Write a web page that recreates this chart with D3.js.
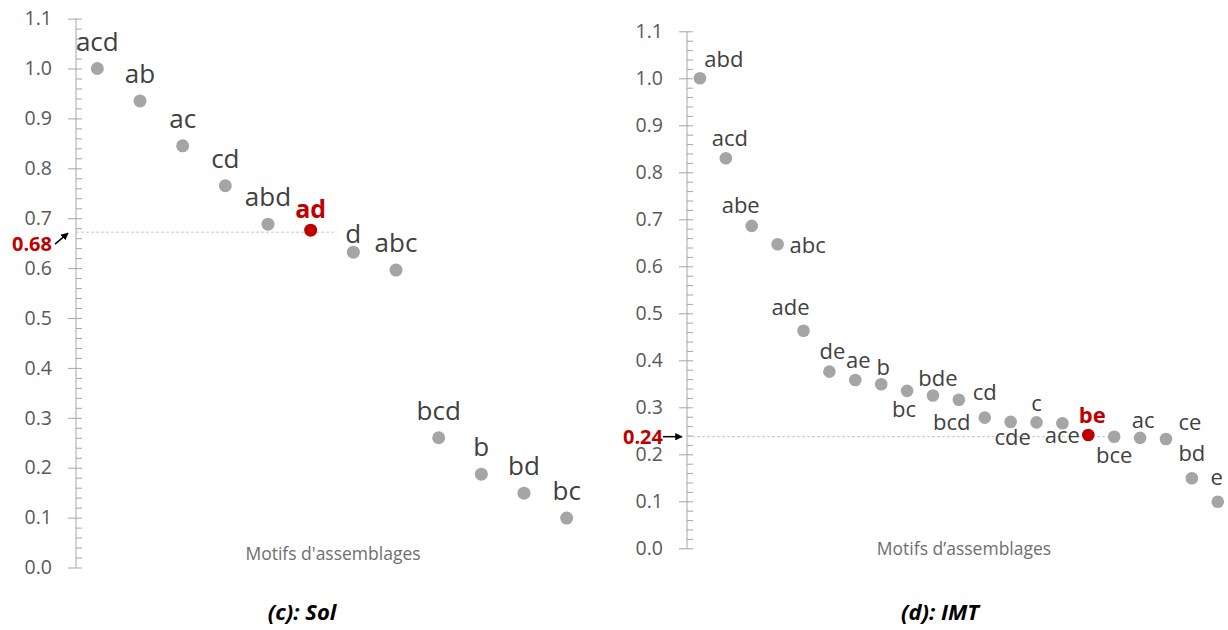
<!DOCTYPE html>
<html>
<head>
<meta charset="utf-8">
<script src="https://cdn.jsdelivr.net/npm/d3@7"></script>
<style>
  body { margin: 0; background: #fff; }
  svg { display: block; font-family: "Open Sans", sans-serif; }
</style>
</head>
<body>
<svg id="chart" width="1228" height="630"></svg>
<script>
// (c) Sol
const solMotifs = ["acd", "ab", "ac", "cd", "abd", "ad", "d", "abc", "bcd", "b", "bd", "bc"];
const solValues = [1.0, 0.935, 0.845, 0.765, 0.688, 0.676, 0.632, 0.596, 0.26, 0.187, 0.149, 0.099];
const solHighlight = "ad";
const solRef = {value: 0.672, text: "0.68"};

// (d) IMT
const imtMotifs = ["abd", "acd", "abe", "abc", "ade", "de", "ae", "b", "bc", "bde", "bcd",
                   "cd", "cde", "c", "ace", "be", "bce", "ac", "ce", "bd", "e"];
const imtValues = [1.0, 0.83, 0.686, 0.647, 0.463, 0.376, 0.358, 0.349, 0.335, 0.325, 0.316,
                   0.278, 0.269, 0.268, 0.266, 0.241, 0.2375, 0.235, 0.2326, 0.149, 0.099];
const imtHighlight = "be";
const imtRef = {value: 0.2375, text: "0.24"};

const yTicks = d3.range(0, 1.1001, 0.1);
const xTitle = ["Motifs d'assemblages", "Motifs d\u2019assemblages"];
const panelTitles = ["(c): Sol", "(d): IMT"];

const RED = "#c00000", GREY = "#a5a5a5", AXIS = "#a6a6a6";

// label placement (dx, dy of baseline) per motif for the crowded IMT panel
const imtLabelPos = {
  abd: [24, -11], acd: [4, -12], abe: [-11, -13], abc: [30, 9], ade: [-13, -16],
  de: [3, -13], ae: [3, -12], b: [2, -9], bc: [-3, 26], bde: [5, -10], bcd: [-7, 30],
  cd: [0, -18], cde: [2, 23], c: [0, -11], ace: [0, 20], be: [4, -12], bce: [0, 26],
  ac: [3, -10], ce: [24, -9], bd: [0, -17], e: [-1, -17]
};
const solLabelPos = {d: [0, -9], ad: [0, -12]};

const svg = d3.select("#chart");
svg.append("defs").append("marker")
  .attr("id", "arrow")
  .attr("viewBox", "0 0 10 10")
  .attr("refX", 9).attr("refY", 5)
  .attr("markerWidth", 5).attr("markerHeight", 5)
  .attr("orient", "auto")
  .append("path").attr("d", "M0,0L10,5L0,10z").attr("fill", "#000");

function drawPanel(cfg) {
  const g = svg.append("g");
  const x = d3.scalePoint().domain(cfg.motifs).range(cfg.xRange).padding(0.5);
  const y = d3.scaleLinear().domain([0, 1.1]).range(cfg.yRange);
  const ax = cfg.xRange[0];

  // minor ticks (to the right of the axis)
  const minor = g.append("g")
    .attr("transform", `translate(${ax},0)`)
    .call(d3.axisRight(y).tickValues(d3.range(0, 1.1001, 0.02)).tickSize(6).tickFormat(""));
  minor.select(".domain").remove();
  minor.selectAll("line").attr("stroke", AXIS);

  // major ticks + labels
  const major = g.append("g")
    .attr("transform", `translate(${ax},0)`)
    .call(d3.axisLeft(y).tickValues(yTicks).tickSize(8).tickPadding(16).tickFormat(d3.format(".1f")));
  major.select(".domain").attr("stroke", AXIS).attr("d", `M0,${cfg.yRange[0]}V${cfg.yRange[1]}`);
  major.selectAll("line").attr("stroke", AXIS);
  major.selectAll("text")
    .attr("fill", "#595959")
    .style("font-family", "Open Sans")
    .style("font-size", "19.5px");

  // reference dashed line
  const yr = y(cfg.ref.value);
  const hx = x(cfg.highlight);
  g.append("line")
    .attr("x1", ax).attr("x2", hx + 23)
    .attr("y1", yr).attr("y2", yr)
    .attr("stroke", "#c8c8c8").attr("stroke-width", 1)
    .attr("stroke-dasharray", "3,2");

  // points
  const data = cfg.motifs.map((m, i) => ({m, v: cfg.values[i]}));
  g.selectAll("circle.pt")
    .data(data)
    .join("circle")
    .attr("class", "pt")
    .attr("cx", d => x(d.m))
    .attr("cy", d => y(d.v))
    .attr("r", cfg.r)
    .attr("fill", d => d.m === cfg.highlight ? RED : GREY);

  // labels
  g.selectAll("text.lbl")
    .data(data)
    .join("text")
    .attr("class", "lbl")
    .attr("text-anchor", "middle")
    .attr("x", d => x(d.m) + (cfg.labelPos[d.m] || cfg.defaultPos)[0])
    .attr("y", d => y(d.v) + (cfg.labelPos[d.m] || cfg.defaultPos)[1])
    .attr("fill", d => d.m === cfg.highlight ? RED : "#404040")
    .style("font-size", d => (d.m === cfg.highlight ? cfg.hlSize : cfg.labelSize) + "px")
    .style("font-weight", d => d.m === cfg.highlight ? "bold" : "normal")
    .text(d => d.m);

  // reference value annotation
  g.append("text")
    .attr("x", ax - 24).attr("y", yr + cfg.refTextDy)
    .attr("text-anchor", "end")
    .attr("fill", RED)
    .style("font-size", "20px").style("font-weight", "bold")
    .text(cfg.ref.text);
  g.append("line")
    .attr("x1", ax + cfg.arrow[0]).attr("y1", yr + cfg.arrow[1])
    .attr("x2", ax + cfg.arrow[2]).attr("y2", yr + cfg.arrow[3])
    .attr("stroke", "#000").attr("stroke-width", 1.5)
    .attr("marker-end", "url(#arrow)");

  // axis title
  g.append("text")
    .attr("x", cfg.xTitlePos[0]).attr("y", cfg.xTitlePos[1])
    .attr("text-anchor", "middle")
    .attr("fill", "#6e6e6e")
    .style("font-size", "17.5px")
    .text(cfg.xTitle);

  // panel title
  g.append("text")
    .attr("x", cfg.titlePos[0]).attr("y", cfg.titlePos[1])
    .attr("text-anchor", "middle")
    .attr("fill", "#000")
    .style("font-size", "22px").style("font-weight", "bold").style("font-style", "italic")
    .text(cfg.title);
}

drawPanel({
  motifs: solMotifs, values: solValues, highlight: solHighlight, ref: solRef,
  xRange: [76, 588], yRange: [567.5, 18.6], r: 6.5,
  labelPos: solLabelPos, defaultPos: [0, -18], labelSize: 26, hlSize: 25,
  refTextDy: 19, arrow: [-21, 12, -8, 1],
  xTitle: xTitle[0], xTitlePos: [333, 560],
  title: panelTitles[0], titlePos: [302, 620]
});

drawPanel({
  motifs: imtMotifs, values: imtValues, highlight: imtHighlight, ref: imtRef,
  xRange: [687, 1230.7], yRange: [548.3, 31.3], r: 6.3,
  labelPos: imtLabelPos, defaultPos: [0, -12], labelSize: 22, hlSize: 22,
  refTextDy: 7, arrow: [-24, 0, -5, 0],
  xTitle: xTitle[1], xTitlePos: [964, 555],
  title: panelTitles[1], titlePos: [940, 620]
});
</script>
</body>
</html>
